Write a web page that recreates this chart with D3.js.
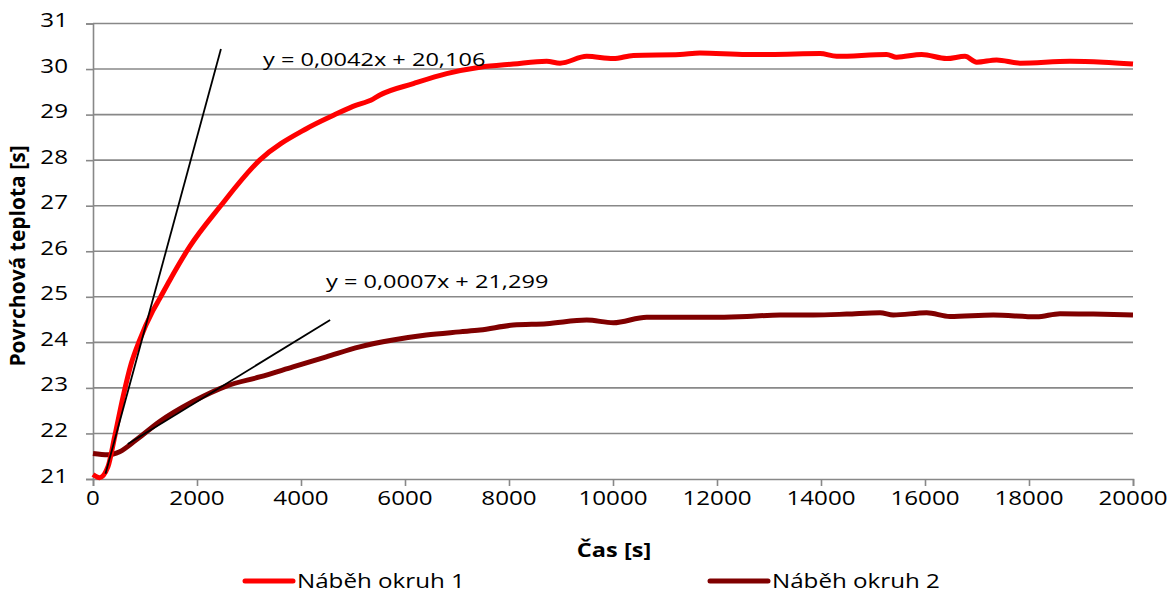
<!DOCTYPE html>
<html><head><meta charset="utf-8">
<script src="https://cdn.jsdelivr.net/npm/d3@7/dist/d3.min.js"></script>
<style>body{margin:0;background:#fff}svg{display:block}text{font-family:"Open Sans",sans-serif;fill:#000}</style>
</head><body><svg id="c" width="1169" height="593"></svg>
<script>
const series1Name = "Náběh okruh 1";
const series1X = [0,128,288,417,577,737,897,1154,1282,1474,1859,2436,3205,4103,4615,5000,5385,5519,6160,6801,7442,8083,8724,8981,9494,10006,10391,11288,11673,12571,13019,13981,14301,15263,15455,15936,16417,16769,16994,17378,17827,18788,19429,20000];
const series1Y = [21.1,21.03,21.27,21.93,22.8,23.54,24.05,24.7,24.96,25.36,26.1,26.97,28.0,28.69,28.98,29.18,29.34,29.43,29.68,29.9,30.04,30.11,30.17,30.13,30.28,30.23,30.3,30.32,30.35,30.32,30.32,30.34,30.28,30.32,30.26,30.32,30.23,30.28,30.15,30.2,30.13,30.17,30.15,30.11];
const series2Name = "Náběh okruh 2";
const series2X = [0,288,513,833,1282,1923,2564,3205,3846,4487,5128,5769,6410,7051,7442,8083,8724,9494,10006,10648,11288,11929,12571,13212,13852,14494,15135,15391,16032,16480,17313,18147,18596,19237,20000];
const series2Y = [21.56,21.53,21.6,21.86,22.26,22.7,23.04,23.24,23.46,23.68,23.9,24.05,24.16,24.23,24.27,24.38,24.41,24.49,24.43,24.55,24.55,24.55,24.57,24.6,24.6,24.62,24.65,24.6,24.65,24.57,24.6,24.56,24.63,24.62,24.6];
const trend1 = {slope:0.0042, intercept:20.106, from:240, to:2460, label:"y = 0,0042x + 20,106"};
const trend2 = {slope:0.0007, intercept:21.299, from:670, to:4560, label:"y = 0,0007x + 21,299"};
const xTicks = [0,2000,4000,6000,8000,10000,12000,14000,16000,18000,20000];
const yTicks = [21,22,23,24,25,26,27,28,29,30,31];
const xTitle = "Čas [s]";
const yTitle = "Povrchová teplota [s]";

const svg = d3.select("#c");
const L=93, R=1133, T=23.5, B=479;
const SX=1.24, FS=19.5;
const x = d3.scaleLinear().domain([0,20000]).range([L,R]);
const y = d3.scaleLinear().domain([21,31]).range([B,T]);
const grid="#888888";

svg.append("g").selectAll("line").data(yTicks.slice(1)).join("line")
  .attr("x1",L).attr("x2",R).attr("y1",d=>y(d)).attr("y2",d=>y(d))
  .attr("stroke",grid).attr("stroke-width",1.6);

const ya = svg.append("g").attr("transform",`translate(${L},0)`)
  .call(d3.axisLeft(y).tickValues(yTicks).tickSize(7).tickFormat(""));
const xa = svg.append("g").attr("transform",`translate(0,${B})`)
  .call(d3.axisBottom(x).tickValues(xTicks).tickSize(7).tickFormat(""));
[ya,xa].forEach(a=>{
  a.select(".domain").attr("stroke",grid).attr("stroke-width",1.6);
  a.selectAll(".tick line").attr("stroke",grid).attr("stroke-width",1.6);
  a.selectAll(".tick text").remove();
});

function stretched(px,py,txt,opts={}){
  const t = svg.append("text").attr("transform",`translate(${px},${py}) scale(${SX},1)`)
    .attr("font-size",opts.fs||FS).text(txt);
  if(opts.anchor) t.attr("text-anchor",opts.anchor);
  if(opts.bold) t.attr("font-weight","bold");
  return t;
}
const fmt = d3.format("d");
yTicks.forEach(v=>stretched(68, y(v)+3.5, fmt(v), {anchor:"end"}));
xTicks.forEach(v=>stretched(x(v), 505, fmt(v), {anchor:"middle"}));

const line = d3.line().x(d=>x(d[0])).y(d=>y(d[1])).curve(d3.curveMonotoneX);
svg.append("path").datum(series2X.map((v,i)=>[v,series2Y[i]]))
  .attr("d",line).attr("fill","none").attr("stroke","#800000").attr("stroke-width",5).attr("stroke-linejoin","round");
svg.append("path").datum(series1X.map((v,i)=>[v,series1Y[i]]))
  .attr("d",line).attr("fill","none").attr("stroke","#ff0000").attr("stroke-width",5).attr("stroke-linejoin","round");

[trend1,trend2].forEach(t=>{
  svg.append("line").attr("x1",x(t.from)).attr("y1",y(t.slope*t.from+t.intercept))
    .attr("x2",x(t.to)).attr("y2",y(t.slope*t.to+t.intercept))
    .attr("stroke","#000").attr("stroke-width",1.8);
});
stretched(263,66,trend1.label,{fs:19});
stretched(326,288,trend2.label,{fs:19});
stretched(614,557,xTitle,{anchor:"middle",bold:true,fs:19});
svg.append("text").attr("transform","translate(25,256) rotate(-90)").attr("text-anchor","middle")
  .attr("font-size",21).attr("font-weight","bold").text(yTitle);

const leg = [{name:series1Name,color:"#ff0000",x1:245,x2:293},{name:series2Name,color:"#800000",x1:710,x2:768}];
leg.forEach(l=>{
  svg.append("line").attr("x1",l.x1).attr("x2",l.x2).attr("y1",581).attr("y2",581).attr("stroke",l.color).attr("stroke-width",5).attr("stroke-linecap","round");
  stretched(l.x2+4,588,l.name);
});
</script></body></html>
